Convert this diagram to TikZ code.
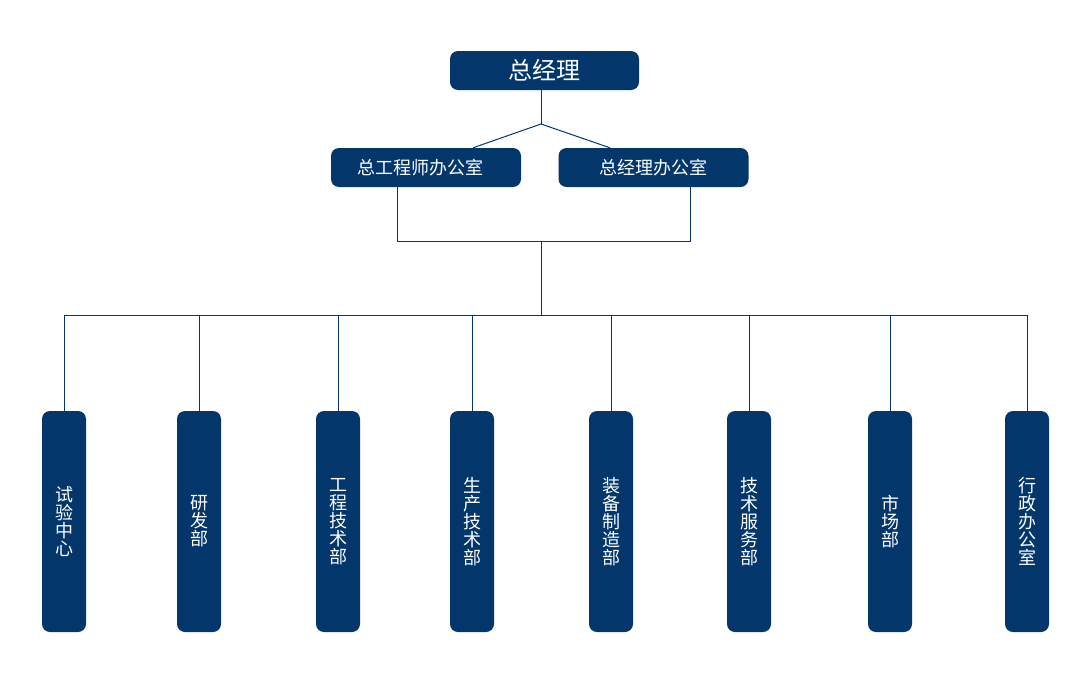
\documentclass[tikz,border=0pt]{standalone}
\usepackage{fontspec}
\newfontfamily\cjk{Noto Sans CJK SC}
\definecolor{navy}{RGB}{3,55,108}
\begin{document}
\begin{tikzpicture}[x=1pt,y=-1pt,
  box/.style={fill=navy,rounded corners=8pt,inner sep=0pt,text=white,font=\cjk},
  topbox/.style={box,minimum width=189pt,minimum height=39pt,font=\cjk\fontsize{24}{28}\selectfont},
  midbox/.style={box,minimum width=190pt,minimum height=39pt,font=\cjk\fontsize{18}{22}\selectfont},
  deptbox/.style={box,minimum width=44pt,minimum height=221pt,align=center,font=\cjk\fontsize{18}{18}\selectfont},
  link/.style={draw=navy,line width=1pt}]
\useasboundingbox (0,0) rectangle (1086,688);
\node[topbox] (gm) at (544.5,70.5) {总经理};
\node[midbox] (ce) at (426,167.5) {总工程师办公室\hspace*{12pt}};
\node[midbox] (go) at (653.5,167.5) {总经理办公室};
\coordinate (j1) at (541,124);
\draw[link] (gm.south -| j1) -- (j1);
\draw[link] (j1) -- (ce.north -| 473,0);
\draw[link] (j1) -- (go.north -| 610,0);
\coordinate (ja) at (397,241);
\coordinate (jb) at (690,241);
\coordinate (jc) at (541,241);
\coordinate (bus) at (541,315);
\draw[link] (ce.south -| ja) -- (ja) -- (jb) -- (go.south -| jb);
\draw[link] (jc) -- (bus);
\foreach \n/\x/\t in {d1/64/试\\验\\中\\心, d2/199/研\\发\\部, d3/338/工\\程\\技\\术\\部, d4/472/生\\产\\技\\术\\部, d5/611/装\\备\\制\\造\\部, d6/749/技\\术\\服\\务\\部, d7/890/市\\场\\部, d8/1027/行\\政\\办\\公\\室}{
  \node[deptbox] (\n) at (\x,521.5) {\t};
}
\draw[link] (d1.north) -- (d1.north |- bus) -- (d8.north |- bus) -- (d8.north);
\foreach \n in {d2,d3,d4,d5,d6,d7}{
  \draw[link] (\n.north) -- (\n.north |- bus);
}
\end{tikzpicture}
\end{document}
